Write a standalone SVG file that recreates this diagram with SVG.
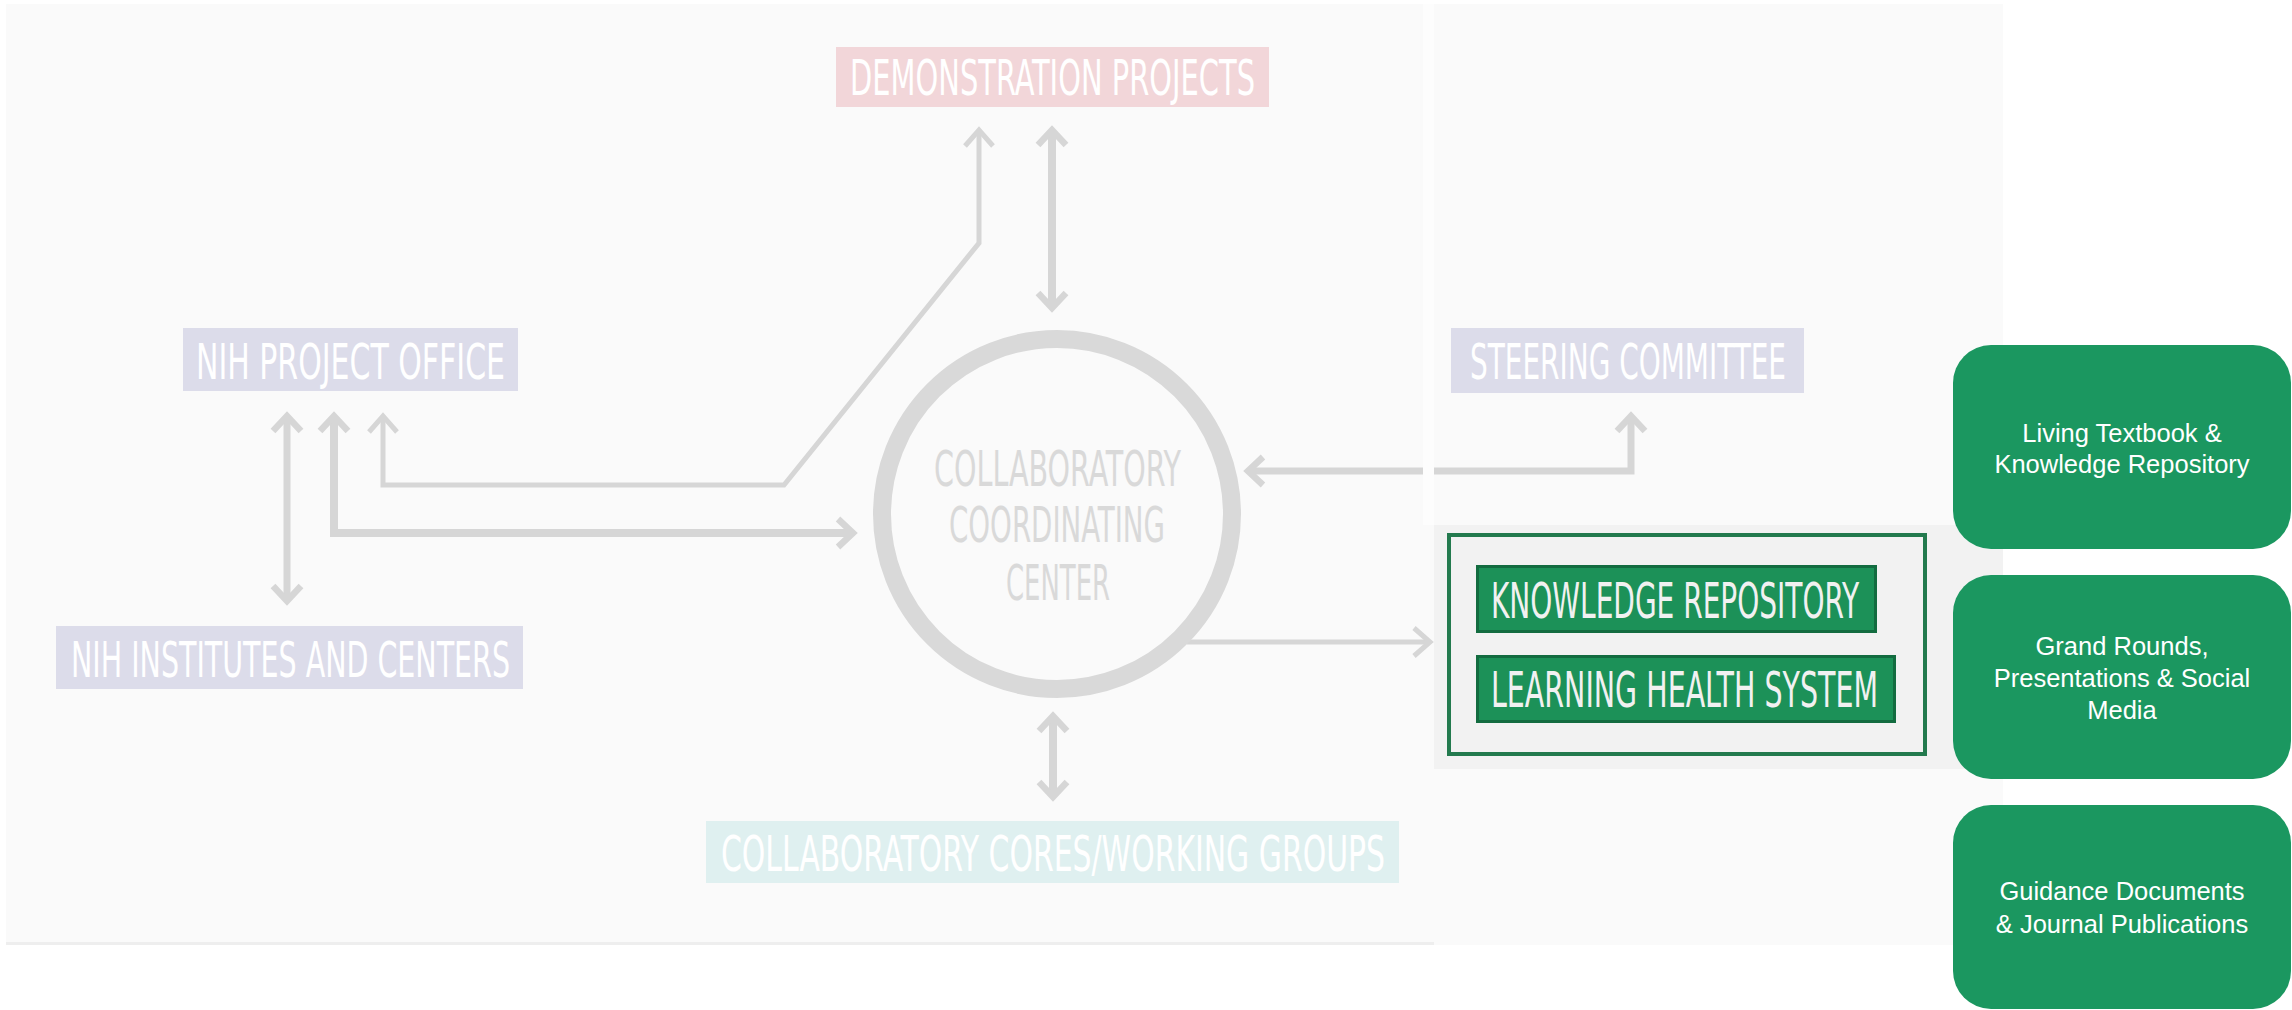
<svg xmlns="http://www.w3.org/2000/svg" width="2292" height="1010" viewBox="0 0 2292 1010">
  <style>
    .cond { font-family: "DejaVu Sans Condensed", "Liberation Sans Narrow", "DejaVu Sans", "Liberation Sans", sans-serif; font-size: 50px; }
    .lbl { fill: #ffffff; }
    .ccc { fill: #d9d9d9; }
    .kr { fill: #f1f1f1; }
    .conn { fill: none; stroke: #d6d6d6; stroke-linejoin: miter; stroke-linecap: butt; }
    .thin { stroke-width: 5; }
    .thick { stroke-width: 8; }
    .gbox { fill: #1b9760; }
    .gtxt { font-family: "Liberation Sans", Arial, sans-serif; font-size: 25.5px; fill: #ffffff; text-anchor: middle; }
  </style>
  <defs>
    <marker id="headThin" markerUnits="userSpaceOnUse" markerWidth="40" markerHeight="40" viewBox="-20 -20 40 40" refX="0" refY="0" orient="auto-start-reverse" overflow="visible">
      <path d="M -16 -14 L 0 0 L -16 14" fill="none" stroke="#d6d6d6" stroke-width="5"/>
    </marker>
    <marker id="headThick" markerUnits="userSpaceOnUse" markerWidth="40" markerHeight="40" viewBox="-20 -20 40 40" refX="0" refY="0" orient="auto-start-reverse" overflow="visible">
      <path d="M -15 -14 L 0 0 L -15 14" fill="none" stroke="#d6d6d6" stroke-width="6.5"/>
    </marker>
  </defs>

  <!-- background panels -->
  <g id="background">
    <rect x="0" y="0" width="2292" height="1010" fill="#ffffff"/>
    <rect x="6" y="4" width="1428" height="938" fill="#fafafa"/>
    <rect x="6" y="942" width="1428" height="3" fill="#eeeeee"/>
    <rect x="1434" y="4" width="569" height="941" fill="#fafafa"/>
    <rect x="1423" y="4" width="11" height="521" fill="#fdfdfd"/>
    <rect x="1434" y="525" width="569" height="244" fill="#f2f2f2"/>
  </g>

  <!-- connectors -->
  <g id="connectors">
    <path class="conn thin" d="M 383 416 L 383 485 L 784 485 L 979 243 L 979 130" marker-start="url(#headThin)" marker-end="url(#headThin)"/>
    <path class="conn thick" d="M 1052 130 L 1052 308" marker-start="url(#headThick)" marker-end="url(#headThick)"/>
    <path class="conn thick" d="M 334 416 L 334 533 L 853 533" marker-start="url(#headThick)" marker-end="url(#headThick)"/>
    <path class="conn" stroke-width="7" d="M 287 416 L 287 601" marker-start="url(#headThick)" marker-end="url(#headThick)"/>
    <path class="conn" stroke-width="7" d="M 1248 471 L 1423 471 M 1434 471 L 1631 471 L 1631 416" marker-start="url(#headThick)" marker-end="url(#headThick)"/>
    <path class="conn thin" d="M 1187 642 L 1430 642" marker-end="url(#headThin)"/>
    <path class="conn thick" d="M 1053 716 L 1053 797" marker-start="url(#headThick)" marker-end="url(#headThick)"/>
  </g>

  <g id="demonstration-projects">
    <rect x="836" y="47" width="433" height="60" fill="#f2d6d9"/>
    <text class="cond lbl" x="850" y="95" textLength="405" lengthAdjust="spacingAndGlyphs">DEMONSTRATION PROJECTS</text>
  </g>

  <g id="nih-project-office">
    <rect x="183" y="328" width="335" height="63" fill="#dcdcea"/>
    <text class="cond lbl" x="196" y="379" textLength="309" lengthAdjust="spacingAndGlyphs">NIH PROJECT OFFICE</text>
  </g>

  <g id="steering-committee">
    <rect x="1451" y="328" width="353" height="65" fill="#dcdcea"/>
    <text class="cond lbl" x="1470" y="379" textLength="316" lengthAdjust="spacingAndGlyphs">STEERING COMMITTEE</text>
  </g>

  <g id="nih-institutes">
    <rect x="56" y="626" width="467" height="63" fill="#dcdcea"/>
    <text class="cond lbl" x="71" y="677" textLength="439" lengthAdjust="spacingAndGlyphs">NIH INSTITUTES AND CENTERS</text>
  </g>

  <g id="coordinating-center">
    <circle cx="1057" cy="514" r="175" fill="none" stroke="#d9d9d9" stroke-width="18"/>
    <text class="cond ccc" x="934" y="486" textLength="247" lengthAdjust="spacingAndGlyphs">COLLABORATORY</text>
    <text class="cond ccc" x="949" y="542" textLength="216" lengthAdjust="spacingAndGlyphs">COORDINATING</text>
    <text class="cond ccc" x="1006" y="600" textLength="104" lengthAdjust="spacingAndGlyphs">CENTER</text>
  </g>

  <g id="cores-working-groups">
    <rect x="706" y="821" width="693" height="62" fill="#dff0f0"/>
    <text class="cond lbl" x="721" y="871" textLength="664" lengthAdjust="spacingAndGlyphs">COLLABORATORY CORES/WORKING GROUPS</text>
  </g>

  <g id="knowledge-group">
    <rect x="1449" y="535" width="476" height="219" fill="#f2f2f2" stroke="#237a4e" stroke-width="4"/>
    <g id="knowledge-repository">
      <rect x="1477.5" y="566.5" width="398" height="65" fill="#1c9158" stroke="#136c40" stroke-width="3"/>
      <text class="cond kr" x="1491" y="618" textLength="368" lengthAdjust="spacingAndGlyphs">KNOWLEDGE REPOSITORY</text>
    </g>
    <g id="learning-health-system">
      <rect x="1477.5" y="656.5" width="417" height="65" fill="#1c9158" stroke="#136c40" stroke-width="3"/>
      <text class="cond kr" x="1491" y="707" textLength="387" lengthAdjust="spacingAndGlyphs">LEARNING HEALTH SYSTEM</text>
    </g>
  </g>

  <g id="living-textbook">
    <rect class="gbox" x="1953" y="345" width="338" height="204" rx="38" ry="38"/>
    <text class="gtxt"><tspan x="2122" y="442">Living Textbook &amp;</tspan><tspan x="2122" y="473">Knowledge Repository</tspan></text>
  </g>

  <g id="grand-rounds">
    <rect class="gbox" x="1953" y="575" width="338" height="204" rx="38" ry="38"/>
    <text class="gtxt"><tspan x="2122" y="655">Grand Rounds,</tspan><tspan x="2122" y="687">Presentations &amp; Social</tspan><tspan x="2122" y="719">Media</tspan></text>
  </g>

  <g id="guidance-documents">
    <rect class="gbox" x="1953" y="805" width="338" height="204" rx="38" ry="38"/>
    <text class="gtxt"><tspan x="2122" y="900">Guidance Documents</tspan><tspan x="2122" y="933">&amp; Journal Publications</tspan></text>
  </g>
</svg>
